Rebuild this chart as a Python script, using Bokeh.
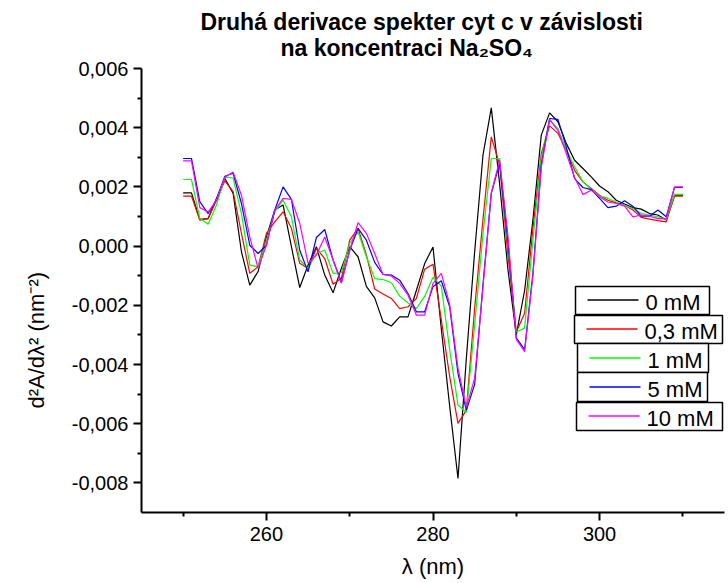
from bokeh.plotting import figure
from bokeh.models import (Range1d, FixedTicker, CustomJSTickFormatter, Label,
                          BoxAnnotation, Title)
from bokeh.embed import file_html
from bokeh.resources import INLINE

# ---------------- data ----------------
wavelength = list(range(250, 311))

series_names = ["0 mM", "0,3 mM", "1 mM", "5 mM", "10 mM"]
series_colors = ["#000000", "#FF0000", "#00FF00", "#0000FF", "#FF00FF"]

d2_0mM = [0.00180, 0.00180, 0.00090, 0.00093, 0.00161, 0.00229, 0.00178, -0.00019, -0.00132, -0.00086,
          0.00031, 0.00122, 0.00139, -0.00002, -0.00140, -0.00064, -0.00002, -0.00098, -0.00158, -0.00075,
          -0.00002, -0.00036, -0.00136, -0.00175, -0.00256, -0.00270, -0.00239, -0.00239, -0.00150, -0.00059,
          -0.00003, -0.00280, -0.00540, -0.00785, -0.00380, -0.00020, 0.00307, 0.00467, 0.00210, -0.00080,
          -0.00300, -0.00150, 0.00090, 0.00375, 0.00450, 0.00420, 0.00347, 0.00290, 0.00262, 0.00234,
          0.00203, 0.00184, 0.00155, 0.00142, 0.00130, 0.00125, 0.00110, 0.00105, 0.00088, 0.00172,
          0.00172]

d2_03mM = [0.00169, 0.00169, 0.00088, 0.00093, 0.00155, 0.00221, 0.00184, 0.00043, -0.00092, -0.00070,
           0.00043, 0.00082, 0.00116, 0.00060, -0.00058, -0.00075, -0.00008, -0.00042, -0.00129, -0.00109,
           0.00020, 0.00060, -0.00030, -0.00145, -0.00162, -0.00177, -0.00211, -0.00205, -0.00177, -0.00078,
           -0.00061, -0.00250, -0.00440, -0.00599, -0.00555, -0.00210, 0.00090, 0.00369, 0.00275, -0.00030,
           -0.00290, -0.00227, 0.00060, 0.00313, 0.00406, 0.00381, 0.00324, 0.00256, 0.00217, 0.00195,
           0.00172, 0.00155, 0.00146, 0.00138, 0.00122, 0.00097, 0.00091, 0.00086, 0.00082, 0.00169,
           0.00169]

d2_1mM = [0.00225, 0.00225, 0.00094, 0.00074, 0.00139, 0.00233, 0.00230, 0.00110, -0.00064, -0.00070,
          0.00020, 0.00116, 0.00155, 0.00099, -0.00047, -0.00075, -0.00025, -0.00014, -0.00092, -0.00090,
          0.00009, 0.00048, -0.00036, -0.00110, -0.00113, -0.00124, -0.00169, -0.00192, -0.00211, -0.00170,
          -0.00105, -0.00135, -0.00350, -0.00537, -0.00562, -0.00267, 0.00040, 0.00296, 0.00296, 0.00000,
          -0.00290, -0.00277, 0.00020, 0.00300, 0.00426, 0.00397, 0.00326, 0.00268, 0.00217, 0.00191,
          0.00170, 0.00161, 0.00149, 0.00138, 0.00127, 0.00110, 0.00105, 0.00099, 0.00090, 0.00175,
          0.00175]

d2_5mM = [0.00296, 0.00296, 0.00150, 0.00110, 0.00155, 0.00236, 0.00246, 0.00144, 0.00003, -0.00025,
          0.00003, 0.00122, 0.00200, 0.00158, -0.00014, -0.00087, 0.00029, 0.00056, -0.00047, -0.00121,
          -0.00014, 0.00060, 0.00020, -0.00055, -0.00096, -0.00098, -0.00115, -0.00160, -0.00222, -0.00222,
          -0.00137, -0.00117, -0.00205, -0.00430, -0.00555, -0.00467, -0.00130, 0.00178, 0.00280, 0.00015,
          -0.00310, -0.00350, -0.00090, 0.00275, 0.00431, 0.00428, 0.00335, 0.00228, 0.00198, 0.00191,
          0.00161, 0.00130, 0.00135, 0.00153, 0.00135, 0.00101, 0.00101, 0.00122, 0.00099, 0.00198,
          0.00198]

d2_10mM = [0.00288, 0.00288, 0.00130, 0.00115, 0.00155, 0.00233, 0.00250, 0.00172, 0.00031, -0.00075,
           0.00003, 0.00122, 0.00161, 0.00158, 0.00077, -0.00058, -0.00030, 0.00031, -0.00047, -0.00126,
           -0.00014, 0.00079, 0.00043, -0.00025, -0.00096, -0.00101, -0.00126, -0.00166, -0.00233, -0.00233,
           -0.00126, -0.00092, -0.00197, -0.00413, -0.00545, -0.00447, -0.00140, 0.00180, 0.00290, 0.00035,
           -0.00315, -0.00357, -0.00100, 0.00265, 0.00428, 0.00391, 0.00313, 0.00232, 0.00174, 0.00189,
           0.00167, 0.00149, 0.00144, 0.00135, 0.00099, 0.00105, 0.00101, 0.00093, 0.00093, 0.00200,
           0.00200]

series_values = [d2_0mM, d2_03mM, d2_1mM, d2_5mM, d2_10mM]

x_major_ticks = [260, 280, 300]
x_minor_ticks = [250, 270, 290, 310]
y_major_ticks = [-0.008, -0.006, -0.004, -0.002, 0.0, 0.002, 0.004, 0.006]
y_tick_labels = ["-0,008", "-0,006", "-0,004", "-0,002", "0,000", "0,002", "0,004", "0,006"]
y_minor_ticks = [-0.007, -0.005, -0.003, -0.001, 0.001, 0.003, 0.005]

title_line1 = "Druhá derivace spekter cyt c v závislosti"
title_line2 = "na koncentraci Na₂SO₄"
x_label = "λ (nm)"
y_label = "d²A/dλ² (nm⁻²)"

# ---------------- figure ----------------
FONT = "Liberation Sans"
X0, X1, Y0, Y1 = 245, 315, -0.009, 0.006
FRAME_W, FRAME_H = 583, 444

p = figure(width=728, height=583,
           x_range=Range1d(X0, X1), y_range=Range1d(Y0, Y1),
           output_backend="svg", toolbar_location=None, title=None,
           min_border_left=141, min_border_right=4,
           min_border_top=68, min_border_bottom=71)
p.outline_line_color = None
p.xgrid.visible = False
p.ygrid.visible = False
p.background_fill_color = "white"
p.border_fill_color = "white"

# titles (line 2 is closest to the plot)
p.add_layout(Title(text=title_line2, align="left", offset=139, standoff=16,
                   text_font=FONT, text_font_size="23px", text_font_style="bold",
                   text_color="black"), "above")
p.add_layout(Title(text=title_line1, align="left", offset=59, standoff=-20,
                   text_font=FONT, text_font_size="23px", text_font_style="bold",
                   text_color="black"), "above")

xa = p.xaxis[0]
xa.ticker = FixedTicker(ticks=x_major_ticks, minor_ticks=x_minor_ticks)
ya = p.yaxis[0]
ya.ticker = FixedTicker(ticks=y_major_ticks, minor_ticks=y_minor_ticks)
ya.formatter = CustomJSTickFormatter(args=dict(tvals=y_major_ticks, tlabels=y_tick_labels), code="""
    let best = 0, bd = Infinity;
    for (let i = 0; i < tvals.length; i++) {
        const d = Math.abs(tvals[i] - tick);
        if (d < bd) { bd = d; best = i; }
    }
    return tlabels[best];
""")
for ax in (xa, ya):
    ax.axis_line_width = 2
    ax.axis_line_color = "black"
    ax.major_tick_out = 8
    ax.major_tick_in = 0
    ax.minor_tick_out = 4
    ax.minor_tick_in = 0
    ax.major_tick_line_width = 2
    ax.minor_tick_line_width = 2
    ax.major_tick_line_color = "black"
    ax.minor_tick_line_color = "black"
    ax.major_label_text_font = FONT
    ax.major_label_text_font_size = "20px"
    ax.major_label_text_color = "black"
xa.major_label_standoff = 6
ya.major_label_standoff = 5
xa.axis_label = x_label
xa.axis_label_text_font = FONT
xa.axis_label_text_font_size = "22px"
xa.axis_label_text_font_style = "normal"
xa.axis_label_text_color = "black"
xa.axis_label_standoff = 10

# y-axis label as a side title, left of the axis
p.add_layout(Title(text=y_label, align="left", offset=104, standoff=40,
                   text_font=FONT, text_font_size="22px", text_font_style="normal",
                   text_color="black"), "left")

for name, color, vals in zip(series_names, series_colors, series_values):
    p.line(wavelength, vals, line_color=color, line_width=1.2)


# ---------------- legend: one bordered box per entry ----------------
def sx_to_x(sx):
    return X0 + sx / FRAME_W * (X1 - X0)


def sy_to_y(sy):
    return Y0 + sy / FRAME_H * (Y1 - Y0)


# (left, right, bottom, top) in frame-relative screen px
legend_boxes = [(434, 568, 198, 226), (433, 581, 169, 197), (436, 567, 140, 169),
                (436, 566, 111, 140), (435, 581, 82, 110)]
for name, (bl, br, bb, bt) in zip(series_names, legend_boxes):
    p.add_layout(BoxAnnotation(left=bl, right=br, bottom=bb, top=bt,
                               left_units="screen", right_units="screen",
                               bottom_units="screen", top_units="screen",
                               fill_color="white", fill_alpha=1.0,
                               line_color="black", line_alpha=1.0, line_width=1.5))
    mid = (bb + bt) / 2
    p.add_layout(Label(x=bl + 70, y=mid - 2, x_units="screen", y_units="screen", text=name,
                       text_font=FONT, text_font_size="22px", text_color="black",
                       text_align="left", text_baseline="middle"))

for name, color, (bl, br, bb, bt) in zip(series_names, series_colors, legend_boxes):
    mid = int((bb + bt) / 2) + 0.5
    sample = p.line(x=[sx_to_x(bl + 12), sx_to_x(bl + 63)], y=[sy_to_y(mid), sy_to_y(mid)],
                    line_color=color, line_width=1.3)
    sample.level = "overlay"

open("out.html", "w").write(file_html(p, INLINE))
